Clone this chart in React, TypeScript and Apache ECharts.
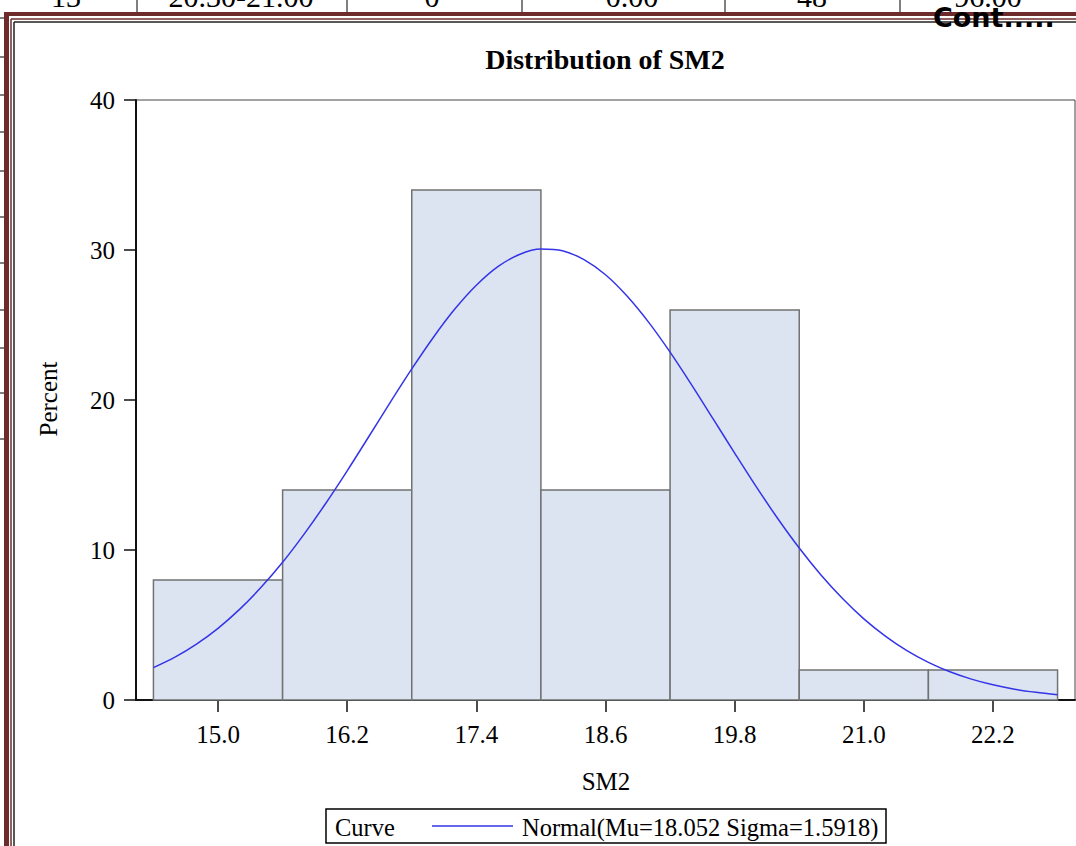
import React, { useEffect, useRef } from "react";
import * as echarts from "echarts";

// ---- data ----
const binStarts = [14.4, 15.6, 16.8, 18.0, 19.2, 20.4, 21.6];
const binEnds = [15.6, 16.8, 18.0, 19.2, 20.4, 21.6, 22.8];
const percents = [8, 14, 34, 14, 26, 2, 2];

const curveX = [
  14.4, 14.6, 14.8, 15.0, 15.2, 15.4, 15.6, 15.8, 16.0, 16.2, 16.4, 16.6, 16.8, 17.0, 17.2, 17.4, 17.6, 17.8,
  18.0, 18.2, 18.4, 18.6, 18.8, 19.0, 19.2, 19.4, 19.6, 19.8, 20.0, 20.2, 20.4, 20.6, 20.8, 21.0, 21.2, 21.4,
  21.6, 21.8, 22.0, 22.2, 22.4, 22.6, 22.8,
];
const curveY = [
  2.16, 2.86, 3.73, 4.78, 6.04, 7.51, 9.18, 11.06, 13.1, 15.28, 17.55, 19.84, 22.07, 24.17, 26.06, 27.65, 28.89, 29.7,
  30.06, 29.95, 29.36, 28.35, 26.93, 25.19, 23.19, 21.01, 18.74, 16.46, 14.22, 12.1, 10.13, 8.35, 6.78, 5.41, 4.26, 3.29,
  2.51, 1.88, 1.39, 1.01, 0.72, 0.51, 0.35,
];

const xTickValues = [15.0, 16.2, 17.4, 18.6, 19.8, 21.0, 22.2];

const tableCells = ["13", "20.30-21.00", "0", "0.00", "48", "96.00"];
const tableCellCenters = [66, 241, 432, 632, 812, 988];
const tableDividers = [137, 347, 522, 725, 900];
const leftRowLines = [18, 57, 95, 132, 171, 217, 263, 310, 348, 393, 439];

const titleText = "Distribution of SM2";
const xName = "SM2";
const yName = "Percent";
const legendLabel = "Curve";
const curveName = "Normal(Mu=18.052 Sigma=1.5918)";

const SERIF = "'Liberation Serif', 'Times New Roman', serif";
const BLUE = "#3434e8";
const RED = "#6d2b2b";

export default function App() {
  const ref = useRef<HTMLDivElement>(null);

  useEffect(() => {
    if (!ref.current) return;
    const chart = echarts.init(ref.current, null, { renderer: "svg" });

    const barData = binStarts.map((s, i) => [s, binEnds[i], percents[i]]);
    const curveData = curveX.map((x, i) => [x, curveY[i]]);

    const graphics: any[] = [];
    // table fragment at top
    tableCells.forEach((t, i) => {
      graphics.push({
        type: "text",
        x: tableCellCenters[i],
        y: 11,
        z: 10,
        style: {
          text: t,
          font: `30px ${SERIF}`,
          fill: "#000",
          textAlign: "center",
          align: "center",
          textVerticalAlign: "bottom",
          verticalAlign: "bottom",
        },
      });
    });
    tableDividers.forEach((x) => {
      graphics.push({ type: "line", z: 10, shape: { x1: x, y1: 0, x2: x, y2: 12 }, style: { stroke: "#000", lineWidth: 1 } });
    });
    leftRowLines.forEach((y) => {
      graphics.push({ type: "line", z: 10, shape: { x1: 0, y1: y, x2: 4, y2: y }, style: { stroke: "#000", lineWidth: 1 } });
    });
    // double border
    graphics.push({ type: "rect", z: 11, shape: { x: 4, y: 12, width: 1080, height: 4 }, style: { fill: RED } });
    graphics.push({ type: "rect", z: 11, shape: { x: 4, y: 12, width: 5, height: 840 }, style: { fill: RED } });
    graphics.push({ type: "line", z: 11, shape: { x1: 11, y1: 19, x2: 1076, y2: 19 }, style: { stroke: RED, lineWidth: 1.5 } });
    graphics.push({ type: "line", z: 11, shape: { x1: 11, y1: 19, x2: 11, y2: 846 }, style: { stroke: RED, lineWidth: 1.5 } });
    graphics.push({ type: "line", z: 11, shape: { x1: 14, y1: 22, x2: 1076, y2: 22 }, style: { stroke: "#222", lineWidth: 1.5 } });
    graphics.push({ type: "line", z: 11, shape: { x1: 14, y1: 22, x2: 14, y2: 846 }, style: { stroke: "#222", lineWidth: 1.5 } });
    // Cont.....
    graphics.push({
      type: "text",
      x: 933,
      y: 31,
      z: 20,
      style: {
        text: "Cont.....",
        font: `bold 27px 'DejaVu Sans', sans-serif`,
        fill: "#000",
        textAlign: "left",
        align: "left",
        textVerticalAlign: "bottom",
        verticalAlign: "bottom",
      },
    });
    // title
    graphics.push({
      type: "text",
      x: 605,
      y: 59,
      z: 10,
      style: {
        text: titleText,
        font: `bold 28px ${SERIF}`,
        fill: "#000",
        textAlign: "center",
        align: "center",
        textVerticalAlign: "middle",
        verticalAlign: "middle",
      },
    });
    // axis names
    graphics.push({
      type: "text",
      x: 606,
      y: 781,
      z: 10,
      style: {
        text: xName,
        font: `25px ${SERIF}`,
        fill: "#000",
        textAlign: "center",
        align: "center",
        textVerticalAlign: "middle",
        verticalAlign: "middle",
      },
    });
    graphics.push({
      type: "text",
      x: 48,
      y: 399,
      rotation: Math.PI / 2,
      z: 10,
      style: {
        text: yName,
        font: `25px ${SERIF}`,
        fill: "#000",
        textAlign: "center",
        align: "center",
        textVerticalAlign: "middle",
        verticalAlign: "middle",
      },
    });
    // legend box
    graphics.push({ type: "rect", z: 10, shape: { x: 326, y: 809, width: 560, height: 34 }, style: { fill: "#fff", stroke: "#000", lineWidth: 1.5 } });
    graphics.push({
      type: "text",
      x: 335,
      y: 827,
      z: 11,
      style: { text: legendLabel, font: `24.5px ${SERIF}`, fill: "#000", textAlign: "left", align: "left", textVerticalAlign: "middle", verticalAlign: "middle" },
    });
    graphics.push({ type: "line", z: 11, shape: { x1: 432, y1: 826, x2: 513, y2: 826 }, style: { stroke: BLUE, lineWidth: 1.5 } });
    graphics.push({
      type: "text",
      x: 522,
      y: 827,
      z: 11,
      style: { text: curveName, font: `24.5px ${SERIF}`, fill: "#000", textAlign: "left", align: "left", textVerticalAlign: "middle", verticalAlign: "middle" },
    });

    chart.setOption({
      animation: false,
      backgroundColor: "#fff",
      grid: {
        left: 136,
        top: 100,
        width: 939,
        height: 600,
        show: true,
        borderColor: "#444",
        borderWidth: 1,
        backgroundColor: "transparent",
      },
      xAxis: {
        type: "value",
        min: 14.238,
        max: 22.962,
        splitLine: { show: false },
        axisLine: { show: true, onZero: false, lineStyle: { color: "#111", width: 2 } },
        axisTick: { show: true, inside: false, length: 12, customValues: xTickValues, lineStyle: { color: "#111", width: 1.5 } },
        axisLabel: {
          customValues: xTickValues,
          formatter: (v: number) => v.toFixed(1),
          fontFamily: SERIF,
          fontSize: 25,
          color: "#000",
          margin: 22,
        },
      },
      yAxis: {
        type: "value",
        min: 0,
        max: 40,
        interval: 10,
        splitLine: { show: false },
        axisLine: { show: true, lineStyle: { color: "#111", width: 2 } },
        axisTick: { show: true, inside: false, length: 12, lineStyle: { color: "#111", width: 1.5 } },
        axisLabel: { fontFamily: SERIF, fontSize: 25, color: "#000", margin: 21 },
      },
      series: [
        {
          type: "custom",
          name: "Histogram",
          data: barData,
          encode: { x: [0, 1], y: 2 },
          renderItem: (params: any, api: any) => {
            const x0 = api.value(0);
            const x1 = api.value(1);
            const y = api.value(2);
            const p0 = api.coord([x0, y]);
            const p1 = api.coord([x1, 0]);
            return {
              type: "rect",
              shape: { x: p0[0], y: p0[1], width: p1[0] - p0[0], height: p1[1] - p0[1] },
              style: { fill: "#dbe4f0", stroke: "#727272", lineWidth: 1.5 },
            };
          },
          z: 2,
        },
        {
          type: "line",
          name: curveName,
          data: curveData,
          smooth: 0.3,
          showSymbol: false,
          symbol: "none",
          lineStyle: { color: BLUE, width: 1.5 },
          z: 3,
        },
      ],
      graphic: { elements: graphics },
    });

    return () => {
      chart.dispose();
    };
  }, []);

  return (
    <div
      ref={ref}
      style={{ position: "fixed", left: 0, top: 0, width: 1076, height: 846, background: "#fff" }}
    />
  );
}
